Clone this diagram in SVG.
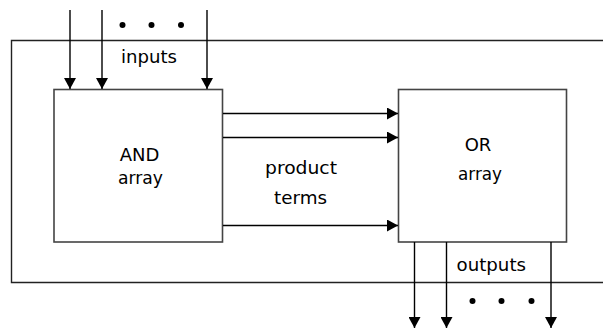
<svg xmlns="http://www.w3.org/2000/svg" width="603" height="329" viewBox="0 0 603 329">
<defs>
<style>
.box{fill:#fff;stroke:#444;stroke-width:1.6}
.frame{fill:none;stroke:#222;stroke-width:1.4}
.ln{fill:none;stroke:#000;stroke-width:1.4}
.t{font-family:"DejaVu Sans","Verdana",sans-serif;font-size:18px;fill:#000}
.c{text-anchor:middle}
.dot{fill:#000}
</style>
<marker id="ah" viewBox="0 0 11 12" refX="11" refY="6" markerWidth="11" markerHeight="12" markerUnits="userSpaceOnUse" orient="auto">
<path d="M0,0 L11,6 L0,12 Z" fill="#000"/>
</marker>
</defs>
<path class="frame" d="M603,40.5 H11.5 V282.5 H603"/>
<g id="and-array">
<rect class="box" x="54" y="89.5" width="168.5" height="152.5"/>
<text class="t c" x="139.5" y="161">AND</text>
<text class="t" x="118" y="184" textLength="45" lengthAdjust="spacingAndGlyphs">array</text>
</g>
<g id="or-array">
<rect class="box" x="398.5" y="89.5" width="168" height="152.5"/>
<text class="t c" x="478" y="151">OR</text>
<text class="t" x="458" y="180" textLength="44" lengthAdjust="spacingAndGlyphs">array</text>
</g>
<g id="labels">
<text class="t" x="121" y="63" textLength="56" lengthAdjust="spacingAndGlyphs">inputs</text>
<text class="t" x="265" y="174" textLength="72" lengthAdjust="spacingAndGlyphs">product</text>
<text class="t" x="274" y="204" textLength="53" lengthAdjust="spacingAndGlyphs">terms</text>
<text class="t" x="456.5" y="271" textLength="69.5" lengthAdjust="spacingAndGlyphs">outputs</text>
<circle class="dot" cx="122.5" cy="25" r="3"/>
<circle class="dot" cx="151.5" cy="25" r="3"/>
<circle class="dot" cx="181" cy="25" r="3"/>
<circle class="dot" cx="472.5" cy="301" r="3"/>
<circle class="dot" cx="501.5" cy="301" r="3"/>
<circle class="dot" cx="531.5" cy="301" r="3"/>
</g>
<g id="connectors">
<line class="ln" x1="70" y1="10" x2="70" y2="89" marker-end="url(#ah)"/>
<line class="ln" x1="102" y1="10" x2="102" y2="89" marker-end="url(#ah)"/>
<line class="ln" x1="207" y1="10" x2="207" y2="89" marker-end="url(#ah)"/>
<line class="ln" x1="223" y1="113.5" x2="398" y2="113.5" marker-end="url(#ah)"/>
<line class="ln" x1="223" y1="137.5" x2="398" y2="137.5" marker-end="url(#ah)"/>
<line class="ln" x1="223" y1="225.5" x2="398" y2="225.5" marker-end="url(#ah)"/>
<line class="ln" x1="414.5" y1="242" x2="414.5" y2="328" marker-end="url(#ah)"/>
<line class="ln" x1="446.5" y1="242" x2="446.5" y2="328" marker-end="url(#ah)"/>
<line class="ln" x1="551" y1="242" x2="551" y2="328" marker-end="url(#ah)"/>
</g>
</svg>
